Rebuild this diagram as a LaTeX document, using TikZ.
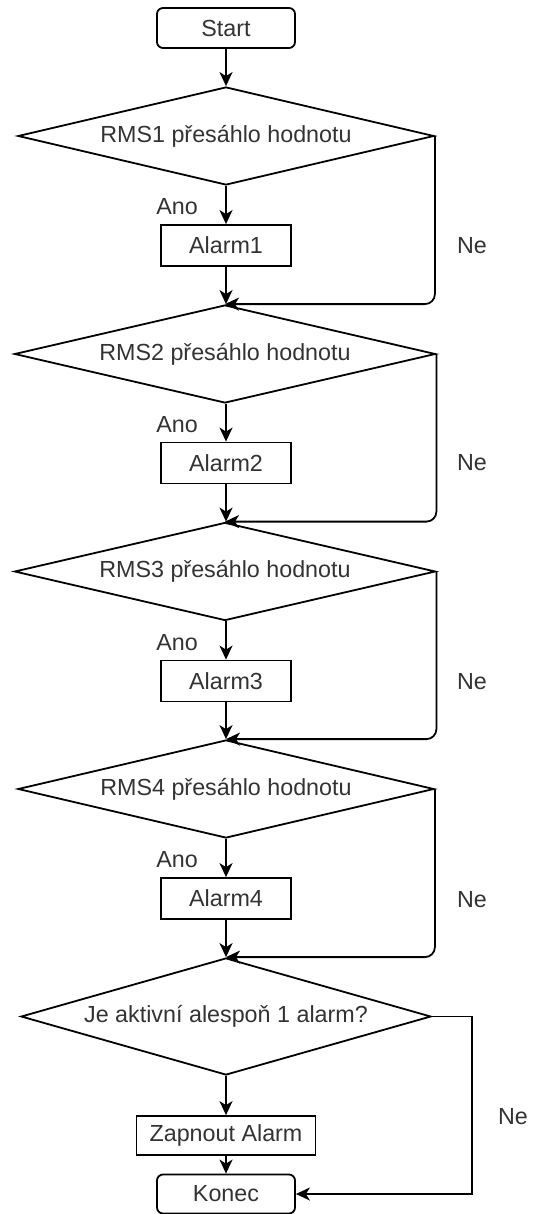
\documentclass[tikz,border=0pt]{standalone}
\usepackage{fontspec}
\setmainfont{Liberation Sans}
\usetikzlibrary{shapes.geometric,arrows.meta}
\begin{document}
\begin{tikzpicture}[x=1pt,y=-1pt,
  every node/.style={font=\fontsize{23.3}{28}\selectfont, text=black!80, inner sep=0pt},
  line/.style={draw=black, line width=1.8pt},
  box/.style={line, rectangle, minimum width=130pt, minimum height=41pt},
  term/.style={box, rounded corners=6pt, minimum width=138pt, minimum height=40pt},
  decision/.style={line, diamond, aspect=4.25, minimum width=#1, minimum height=98pt},
  flow/.style={line, -{Stealth[length=14pt,width=13pt,inset=4pt]}},
  back/.style={flow, rounded corners=10pt},
]
\useasboundingbox (0,0) rectangle (534,1214);

% start / end terminals
\node[term] (start) at (226,28) {Start};
\node[term, minimum height=39pt] (konec) at (226,1194) {Konec};

% four threshold checks with their alarms
\node[decision=416pt] (d1) at (226,136) {RMS1 přesáhlo hodnotu};
\node[box] (a1) at (226,245.5) {Alarm1};
\node[decision=421pt] (d2) at (225,354) {RMS2 přesáhlo hodnotu};
\node[box] (a2) at (226,463) {Alarm2};
\node[decision=421pt] (d3) at (225,571.5) {RMS3 přesáhlo hodnotu};
\node[box] (a3) at (226,681) {Alarm3};
\node[decision=416pt] (d4) at (226,789) {RMS4 přesáhlo hodnotu};
\node[box] (a4) at (226,898.5) {Alarm4};

% final decision
\node[decision=410pt, minimum height=117pt] (d5) at (226,1016.5) {Je aktivní alespoň 1 alarm?};
\node[box, minimum width=179pt, minimum height=39pt] (zap) at (226,1135.5) {Zapnout Alarm};

% branch labels
\node (ano1) at (177,207) {Ano};
\node (ano2) at (177,425) {Ano};
\node (ano3) at (177,643) {Ano};
\node (ano4) at (177,860) {Ano};
\node (ne1) at (472,246) {Ne};
\node (ne2) at (472,463) {Ne};
\node (ne3) at (472,682) {Ne};
\node (ne4) at (472,900) {Ne};
\node (ne5) at (513,1117) {Ne};

% main flow, kept on one vertical axis
\draw[flow] (start) -- (d1.north -| start);
\draw[flow] (d1.south -| a1) -- (a1);
\draw[flow] (a1) -- (d2.north -| a1);
\draw[flow] (d2.south -| a2) -- (a2);
\draw[flow] (a2) -- (d3.north -| a2);
\draw[flow] (d3.south -| a3) -- (a3);
\draw[flow] (a3) -- (d4.north -| a3);
\draw[flow] (d4.south -| a4) -- (a4);
\draw[flow] (a4) -- (d5);
\draw[flow] (d5) -- (zap);
\draw[flow] (zap) -- (konec);

% "Ne" bypasses
\draw[back] (d1.east) -- (d1.east |- d2.north) -- (d2.north);
\draw[back] (d2.east) -- (d2.east |- d3.north) -- (d3.north);
\draw[back] (d3.east) -- (d3.east |- d4.north) -- (d4.north);
\draw[back] (d4.east) -- (d4.east |- d5.north) -- (d5.north);
\draw[flow] (d5.east) -- ++(40,0) |- (konec.east);
\end{tikzpicture}
\end{document}
